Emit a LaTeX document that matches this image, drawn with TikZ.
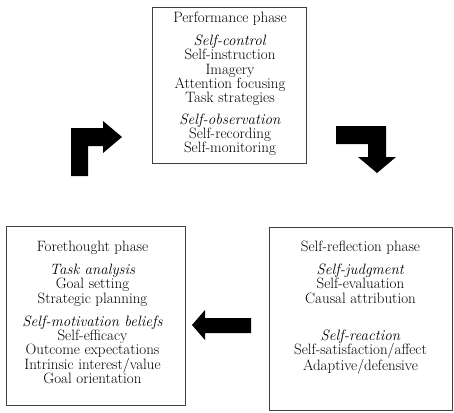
\documentclass[tikz,border=0pt]{standalone}
\usepackage{tikz}
\begin{document}
\begin{tikzpicture}[x=1pt, y=-1pt,
    phase/.style={rectangle, draw=black!75, line width=0.9pt, inner sep=0pt},
    phasetext/.style={anchor=north, align=center, inner sep=0pt, font=\fontsize{15}{14.3}\selectfont},
    blockarrow/.style={fill=black, draw=none},
]
\useasboundingbox (0,0) rectangle (454,412);

% the three phase boxes
\node[phase, minimum width=154pt, minimum height=156pt] (perf) at (229,85) {};
\node[phase, minimum width=179pt, minimum height=179pt] (fore) at (95.5,315.5) {};
\node[phase, minimum width=183pt, minimum height=183pt] (refl) at (360.5,318.5) {};

\node[phasetext] (perftxt) at ([xshift=1pt, yshift=-5pt]perf.north) {Performance phase\\[9pt]
    \textit{Self-control}\\ Self-instruction\\ Imagery\\ Attention focusing\\ Task strategies\\[7pt]
    \textit{Self-observation}\\ Self-recording\\ Self-monitoring};
\node[phasetext] (foretxt) at ([xshift=-3pt, yshift=-15pt]fore.north) {Forethought phase\\[9pt]
    \textit{Task analysis}\\ Goal setting\\ Strategic planning\\[9pt]
    \textit{Self-motivation beliefs}\\ Self-efficacy\\ Outcome expectations\\ Intrinsic interest/value\\ Goal orientation};
\node[phasetext] (refltxt) at ([yshift=-14pt]refl.north) {Self-reflection phase\\[9pt]
    \textit{Self-judgment}\\ Self-evaluation\\ Causal attribution\\[23pt]
    \textit{Self-reaction}\\ Self-satisfaction/affect\\ Adaptive/defensive};

% block arrows of the cycle
\fill[blockarrow] (71,176) -- (71,128) -- (103,128) -- (103,121) -- (122,137) -- (103,153) -- (103,146) -- (88,146) -- (88,176) -- cycle;
\fill[blockarrow] (336,126) -- (386,126) -- (386,157) -- (396,157) -- (377,173) -- (358,157) -- (368,157) -- (368,144) -- (336,144) -- cycle;
\fill[blockarrow] (251,318) -- (205,318) -- (205,310) -- (192,325) -- (205,340) -- (205,333) -- (251,333) -- cycle;
\end{tikzpicture}
\end{document}
